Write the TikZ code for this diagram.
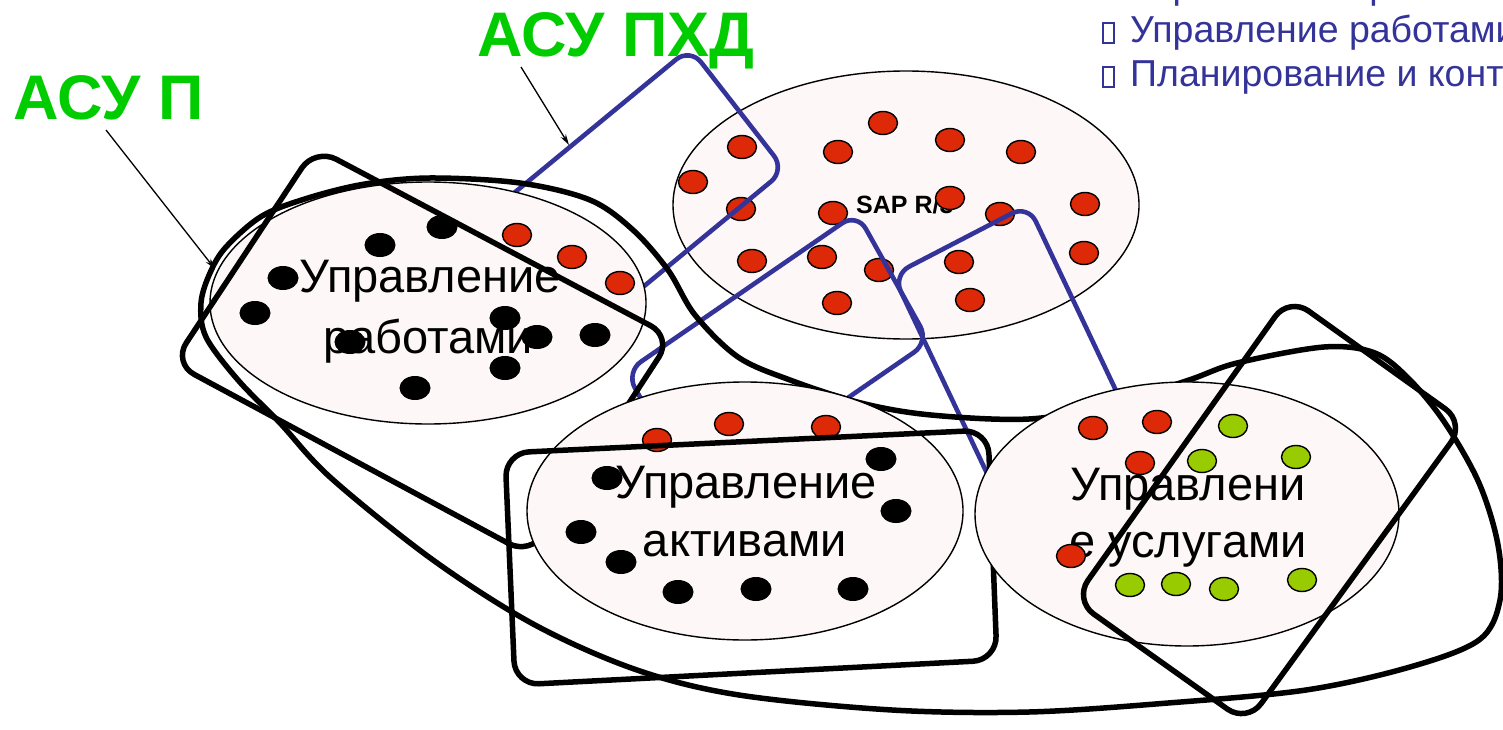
\documentclass[tikz,border=0pt]{standalone}
\usepackage{fontspec}
\setmainfont{Liberation Sans}
\usetikzlibrary{arrows.meta}
\definecolor{ellfill}{RGB}{253,247,247}
\definecolor{reddot}{RGB}{221,41,7}
\definecolor{greendot}{RGB}{153,204,0}
\definecolor{bluel}{RGB}{51,51,153}
\definecolor{greent}{RGB}{0,204,0}
\begin{document}
\begin{tikzpicture}[x=1pt,y=-1pt,
  ell/.style={draw=black, line width=1.4pt, fill=ellfill},
  rdot/.style={draw=black, line width=1.4pt, fill=reddot},
  gdot/.style={draw=black, line width=1.4pt, fill=greendot},
  kdot/.style={draw=black, line width=1pt, fill=black},
  blueframe/.style={draw=bluel, line width=4.6pt, rounded corners=18pt},
  blackframe/.style={draw=black, line width=5.5pt, rounded corners=24pt},
  lbl/.style={font=\fontsize{47}{56}\selectfont, anchor=base, inner sep=0pt},
  green label/.style={font=\fontsize{63}{70}\selectfont\bfseries, text=greent, anchor=base west, inner sep=0pt},
  toptext/.style={font=\fontsize{37.5}{42}\selectfont, text=bluel, anchor=base west, inner sep=0pt},
  pointer/.style={line width=1.3pt, -{Stealth[length=11pt,width=6pt]}},
  bullet box/.style={draw=bluel, line width=1.6pt}
]
\useasboundingbox (0,0) rectangle (1503,730);
\clip (0,0) rectangle (1503,730);

% SAP R/3 ellipse
\path[ell] (906,205) ellipse [x radius=233pt, y radius=134pt];
\node[font=\fontsize{25}{30}\selectfont\bfseries, anchor=base west, inner sep=0pt] (sap) at (856,213) {SAP R/3};
\foreach \x/\y in {883/123, 838/152, 742/147, 693/182, 741/209, 950/140, 1021/152, 833/213, 950/198, 1000/214, 1085/204, 1084/253, 752/261, 822/257, 879/270, 959/262, 837/303, 970/300}
  \path[rdot] (\x,\y) ellipse [x radius=14.5pt, y radius=11.5pt];

% blue frames
\draw[blueframe] (737.5,109) -- (785,170) -- (569,348) -- (474,226) -- (690,48) -- cycle;
\draw[blueframe] (893,277.5) -- (929,342) -- (698,501) -- (626,372) -- (857,213) -- cycle;
\draw[blueframe] (1096.5,349.5) -- (1165,494) -- (1030,564) -- (893,275) -- (1028,205) -- cycle;

% work ellipse
\path[ell] (428,303) ellipse [x radius=218pt, y radius=121pt];
\node[lbl] (work1) at (430,292) {Управление};
\node[lbl] (work2) at (428,353) {работами};
\foreach \x/\y in {442/227, 380/245, 283/278, 255/313, 505/318, 537/337, 350/342, 595/335, 505/368, 415/388}
  \path[kdot] (\x,\y) ellipse [x radius=15pt, y radius=11.5pt];
\foreach \x/\y in {517/235, 572/257, 620/283}
  \path[rdot] (\x,\y) ellipse [x radius=14.5pt, y radius=11.5pt];

% big black outline
\draw[line width=5.5pt] plot[smooth cycle, tension=0.55] coordinates {
 (430,178) (520,183) (590,200) (633,230) (668,270) (695,315) (738,357) (790,380) (861,403) (931,415) (1029,419) (1110,405) (1189,380) (1237,363) (1324,347) (1375,353) (1410,380) (1445,423) (1479,483) (1498,545) (1500,600) (1479,640) (1410,667) (1306,690) (1168,703) (1029,712) (892,710) (739,695) (637,670) (535,625) (433,560) (331,478) (280,423) (238,380) (206,337) (201,303) (210,273) (226,247) (262,216) (308,198) (365,184)};

% ASU P frame
\draw[blackframe] (493.5,242.5) -- (672,337) -- (530,555) -- (173,363) -- (315,148) -- cycle;

% assets ellipse
\path[ell] (745,511) ellipse [x radius=218pt, y radius=129pt];
\node[lbl] (assets1) at (746,498) {Управление};
\node[lbl] (assets2) at (745,556) {активами};
\foreach \x/\y in {607/478, 881/459, 896/511, 581/532, 621/562, 678/592, 756/589, 853/589}
  \path[kdot] (\x,\y) ellipse [x radius=15pt, y radius=11.5pt];
\foreach \x/\y in {657/440, 729/424, 826/427}
  \path[rdot] (\x,\y) ellipse [x radius=14.5pt, y radius=11.5pt];
\draw[blackframe] (746.5,441.5) -- (988,430) -- (997,660) -- (515,685) -- (505,453) -- cycle;

% services ellipse
\path[ell] (1187,514) ellipse [x radius=212pt, y radius=132pt];
\node[lbl] (serv1) at (1188,500) {Управлени};
\node[lbl] (serv2) at (1188,557) {е услугами};
\foreach \x/\y in {1093/428, 1157/422, 1140/463, 1071/556}
  \path[rdot] (\x,\y) ellipse [x radius=14.5pt, y radius=11.5pt];
\foreach \x/\y in {1233/426, 1202/461, 1296/457, 1130/585, 1176/584, 1224/589, 1302/580}
  \path[gdot] (\x,\y) ellipse [x radius=14.5pt, y radius=11.5pt];
\draw[blackframe] (1377,360) -- (1465,423) -- (1247,723) -- (1074,600) -- (1289,297) -- cycle;

% green labels and pointers
\node[green label] (asup) at (13,120) {АСУ П};
\node[green label] (asupxd) at (477,57) {АСУ ПХД};
\coordinate (asupFrom) at (106,130);
\coordinate (asupTo) at (215,269);
\coordinate (asupxdFrom) at (521,67);
\coordinate (asupxdTo) at (569,145);
\draw[pointer] (asupFrom) -- (asupTo);
\draw[pointer] (asupxdFrom) -- (asupxdTo);

% top right list
\draw[bullet box] (1103,-21) rectangle (1114,-1);
\draw[bullet box] (1103,23) rectangle (1114,43);
\draw[bullet box] (1103,67) rectangle (1114,87);
\node[toptext] (list1) at (1130,-1) {Управление проектами};
\node[toptext] (list2) at (1130,43) {Управление работами};
\node[toptext] (list3) at (1130,87) {Планирование и контроль};
\end{tikzpicture}
\end{document}
